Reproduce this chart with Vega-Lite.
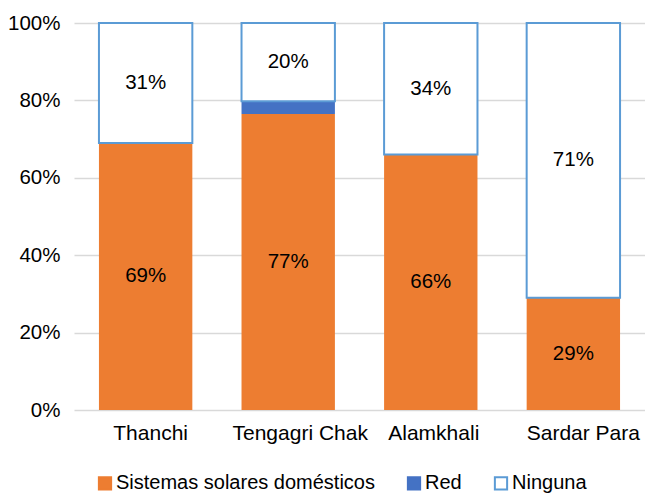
{
  "$schema": "https://vega.github.io/schema/vega-lite/v6.json",
  "width": 571,
  "height": 387,
  "autosize": {"type": "none"},
  "padding": {"left": 74, "top": 23, "right": 0, "bottom": 83},
  "config": {
    "view": {"stroke": null},
    "font": "Liberation Sans",
    "text": {"font": "Liberation Sans"}
  },
  "data": {
    "values": [
      {"site": "Thanchi", "tipo": "Sistemas solares domésticos", "v": 0.69, "ord": 1},
      {"site": "Thanchi", "tipo": "Red", "v": 0.0, "ord": 2},
      {"site": "Thanchi", "tipo": "Ninguna", "v": 0.31, "ord": 3},
      {"site": "Tengagri Chak", "tipo": "Sistemas solares domésticos", "v": 0.765, "ord": 1},
      {"site": "Tengagri Chak", "tipo": "Red", "v": 0.033, "ord": 2},
      {"site": "Tengagri Chak", "tipo": "Ninguna", "v": 0.202, "ord": 3},
      {"site": "Alamkhali", "tipo": "Sistemas solares domésticos", "v": 0.66, "ord": 1},
      {"site": "Alamkhali", "tipo": "Red", "v": 0.0, "ord": 2},
      {"site": "Alamkhali", "tipo": "Ninguna", "v": 0.34, "ord": 3},
      {"site": "Sardar Para", "tipo": "Sistemas solares domésticos", "v": 0.29, "ord": 1},
      {"site": "Sardar Para", "tipo": "Red", "v": 0.0, "ord": 2},
      {"site": "Sardar Para", "tipo": "Ninguna", "v": 0.71, "ord": 3}
    ]
  },
  "encoding": {
    "x": {
      "field": "site",
      "type": "nominal",
      "sort": ["Thanchi", "Tengagri Chak", "Alamkhali", "Sardar Para"],
      "scale": {"paddingInner": 0.345, "paddingOuter": 0.175},
      "title": null,
      "axis": {
        "labelAngle": 0,
        "domain": false,
        "ticks": false,
        "tickSize": 0,
        "labelPadding": 12,
        "labelFontSize": 21,
        "labelColor": "#000000",
        "labelFont": "Liberation Sans",
        "labelOffset": {"condition": [
          {"test": "datum.label === 'Thanchi'", "value": 5},
          {"test": "datum.label === 'Tengagri Chak'", "value": 12},
          {"test": "datum.label === 'Alamkhali'", "value": 3}
        ], "value": 10}
      }
    }
  },
  "layer": [
    {
      "mark": {"type": "bar"},
      "encoding": {
        "y": {
          "field": "v",
          "type": "quantitative",
          "stack": "zero",
          "scale": {"domain": [0, 1]},
          "title": null,
          "axis": {
            "values": [0, 0.2, 0.4, 0.6, 0.8, 1],
            "format": ".0%",
            "grid": true,
            "gridColor": "#D9D9D9",
            "gridWidth": 1.5,
            "domain": false,
            "ticks": false,
            "tickSize": 0,
            "labelPadding": 14,
            "labelFontSize": 20.5,
            "labelColor": "#000000",
            "labelFont": "Liberation Sans"
          }
        },
        "fill": {
          "field": "tipo",
          "type": "nominal",
          "scale": {
            "domain": ["Sistemas solares domésticos", "Red", "Ninguna"],
            "range": ["#ED7D31", "#4472C4", "#FFFFFF"]
          },
          "legend": {
            "orient": "none",
            "legendX": 21,
            "legendY": 450,
            "direction": "horizontal",
            "title": null,
            "symbolType": "square",
            "symbolSize": 150,
            "symbolStrokeWidth": 2,
            "labelFontSize": 20,
            "labelFont": "Liberation Sans",
            "labelColor": "#000000",
            "labelOffset": 1,
            "labelLimit": 400,
            "columnPadding": 28,
            "padding": 0
          }
        },
        "stroke": {
          "field": "tipo",
          "type": "nominal",
          "scale": {
            "domain": ["Sistemas solares domésticos", "Red", "Ninguna"],
            "range": ["#ED7D31", "#4472C4", "#5B9BD5"]
          },
          "legend": {
            "orient": "none",
            "legendX": 21,
            "legendY": 450,
            "direction": "horizontal",
            "title": null,
            "symbolType": "square",
            "symbolSize": 150,
            "symbolStrokeWidth": 2,
            "labelFontSize": 20,
            "labelFont": "Liberation Sans",
            "labelColor": "#000000",
            "labelOffset": 1,
            "labelLimit": 400,
            "columnPadding": 28,
            "padding": 0
          }
        },
        "strokeWidth": {"condition": {"test": "datum.tipo === 'Ninguna'", "value": 2}, "value": 0},
        "order": {"field": "ord", "type": "quantitative"}
      }
    },
    {
      "transform": [
        {"stack": "v", "groupby": ["site"], "sort": [{"field": "ord", "order": "ascending"}], "as": ["v0", "v1"]},
        {"filter": "datum.v >= 0.05"},
        {"fold": ["v0", "v1"], "as": ["k", "edge"]}
      ],
      "mark": {"type": "text", "fontSize": 20.5, "font": "Liberation Sans", "color": "#000000", "baseline": "middle", "align": "center"},
      "encoding": {
        "y": {"aggregate": "mean", "field": "edge", "type": "quantitative", "stack": null},
        "text": {"field": "v", "type": "quantitative", "format": ".0%"}
      }
    }
  ]
}
